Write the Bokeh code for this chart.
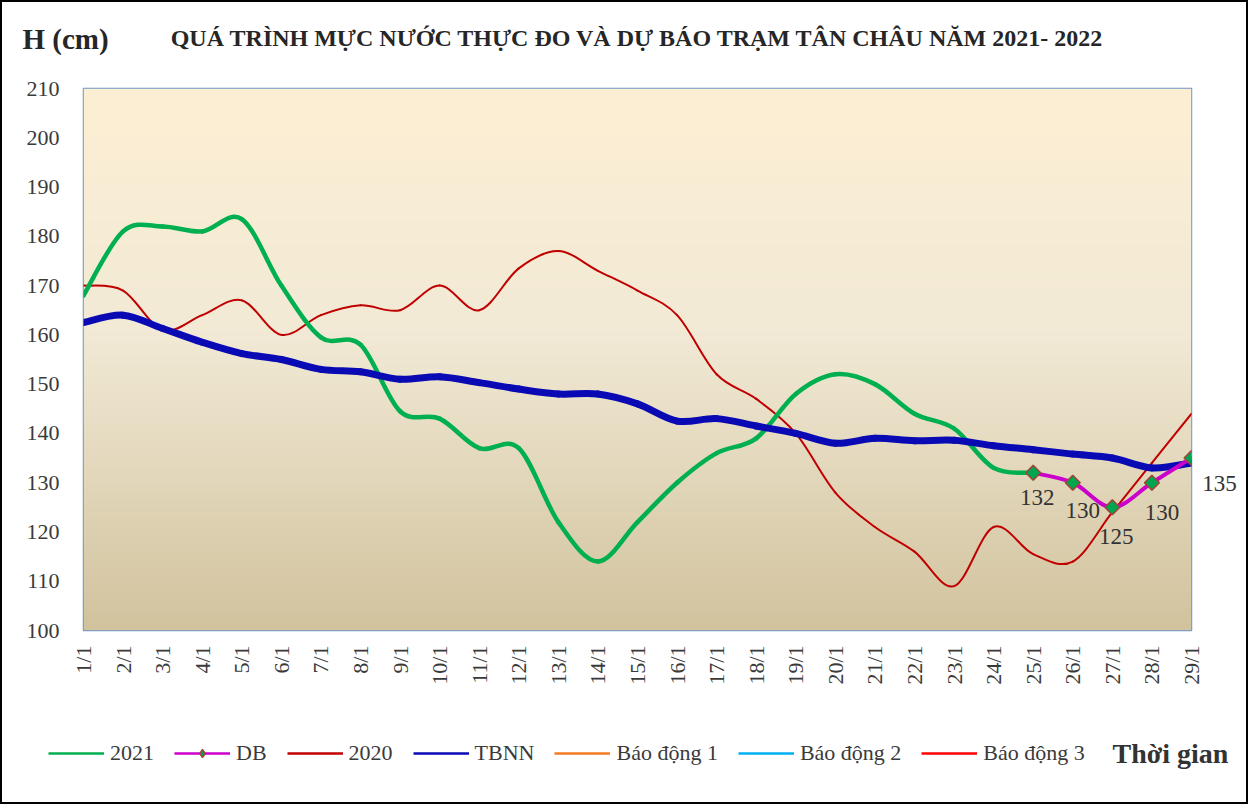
import numpy as np
from bokeh.plotting import figure
from bokeh.layouts import column
from bokeh.models import (Range1d, FixedTicker, Legend, LegendItem, Label,
                          LabelSet, ColumnDataSource)
from bokeh.core.properties import value
from bokeh.embed import file_html
from bokeh.resources import INLINE

# ---------------- data ----------------
days = ["1/1", "2/1", "3/1", "4/1", "5/1", "6/1", "7/1", "8/1", "9/1", "10/1",
        "11/1", "12/1", "13/1", "14/1", "15/1", "16/1", "17/1", "18/1", "19/1",
        "20/1", "21/1", "22/1", "23/1", "24/1", "25/1", "26/1", "27/1", "28/1", "29/1"]

h2021 = [168, 181, 182, 181, 183.5, 170, 159.5, 158, 144.5, 143, 137, 137, 122,
         114, 122, 130, 136, 139, 148, 152, 150, 144, 141, 133, 132]

db_days = ["25/1", "26/1", "27/1", "28/1", "29/1"]
db = [132, 130, 125, 130, 135]

h2020 = [170, 169, 161, 164, 167, 160, 164, 166, 165, 170, 165, 173.5, 177, 173,
         169, 164, 152, 147, 140, 128, 121, 116, 109, 121, 115.5, 114, 124, 134, 144]

tbnn = [162.5, 164, 161.3, 158.5, 156.2, 155, 153, 152.5, 151, 151.5, 150.3, 149,
        148, 148, 146, 142.5, 143, 141.5, 140, 138, 139, 138.5, 138.6, 137.5,
        136.7, 135.8, 135, 133, 134]

bd1 = 350
bd2 = 400
bd3 = 450

FONT = "Liberation Serif"
C2021, C2020, CTB, CDB = "#00B050", "#C00000", "#0A0AB4", "#CC00CC"
CB1, CB2, CB3 = "#F47B20", "#00B0F0", "#FF0000"

xi = list(range(len(days)))
x2021 = xi[:len(h2021)]
xdb = [days.index(d) for d in db_days]

# ---------------- geometry ----------------
W, H1, H2 = 1244, 700, 100
FL, FT, FW, FH = 81, 86, 1108, 542       # frame left/top/width/height (px)
X0, X1, Y0, Y1 = 0, 28, 100, 210


def dx(px):   # canvas px -> data x (for text placed outside the frame)
    return X0 + (px - FL) * (X1 - X0) / FW


def dy(py):   # canvas px -> data y
    return Y0 + (FT + FH - py) * (Y1 - Y0) / FH


def smooth(xs, ys):
    """Catmull-Rom (Excel-like) bezier control points from the data."""
    n = len(xs)
    d = dict(x0=[], y0=[], x1=[], y1=[], cx0=[], cy0=[], cx1=[], cy1=[])
    for i in range(n - 1):
        a = max(i - 1, 0)
        b = min(i + 2, n - 1)
        d["x0"].append(xs[i]); d["y0"].append(ys[i])
        d["x1"].append(xs[i + 1]); d["y1"].append(ys[i + 1])
        d["cx0"].append(xs[i] + (xs[i + 1] - xs[a]) / 6.0)
        d["cy0"].append(ys[i] + (ys[i + 1] - ys[a]) / 6.0)
        d["cx1"].append(xs[i + 1] - (xs[b] - xs[i]) / 6.0)
        d["cy1"].append(ys[i + 1] - (ys[b] - ys[i]) / 6.0)
    return ColumnDataSource(d)


p = figure(width=W, height=H1, output_backend="svg", toolbar_location=None,
           title=None, x_range=Range1d(X0, X1), y_range=Range1d(Y0, Y1),
           min_border_left=FL, min_border_right=W - FL - FW, min_border_top=FT,
           min_border_bottom=H1 - FT - FH)
p.frame_align = False
p.background_fill_color = None
p.border_fill_color = "white"
p.outline_line_color = "#6F93C5"
p.outline_line_width = 1.5
p.xgrid.visible = False
p.ygrid.visible = False

# background gradient (tan preset)
N = 256
t = np.linspace(0, 1, N)  # 0 = bottom, 1 = top
stops_t = [0.0, 0.55, 1.0]
stops_c = [(210, 195, 158), (242, 234, 214), (253, 239, 211)]
img = np.zeros((N, 1), dtype=np.uint32)
view = img.view(dtype=np.uint8).reshape((N, 1, 4))
for k in range(3):
    view[:, 0, k] = np.interp(t, stops_t, [c[k] for c in stops_c]).astype(np.uint8)
view[:, 0, 3] = 255
p.image_rgba(image=[img], x=X0, y=Y0, dw=X1 - X0, dh=Y1 - Y0, level="underlay")

# curves
bz = dict(x0="x0", y0="y0", x1="x1", y1="y1", cx0="cx0", cy0="cy0",
          cx1="cx1", cy1="cy1", line_cap="round")
p.bezier(source=smooth(xi, h2020), line_color=C2020, line_width=2, **bz)
p.bezier(source=smooth(x2021, h2021), line_color=C2021, line_width=4.5, **bz)
p.bezier(source=smooth(xi, tbnn), line_color=CTB, line_width=7, **bz)
p.bezier(source=smooth(xdb, db), line_color=CDB, line_width=4, **bz)
p.scatter(xdb, db, marker="square", angle=np.pi / 4, size=10.5,
          fill_color="#00A550", line_color="#A04538", line_width=1.5)

# alarm levels (far above the visible range)
p.line(xi, [bd1] * len(xi), line_color=CB1, line_width=2.5)
p.line(xi, [bd2] * len(xi), line_color=CB2, line_width=2.5)
p.line(xi, [bd3] * len(xi), line_color=CB3, line_width=2.5)

# DB value labels (first four inside the frame, last one in the right margin)
lab_src = ColumnDataSource(dict(x=xdb[:-1], y=db[:-1], t=[str(v) for v in db[:-1]],
                                ox=[4, 10, 4, 10], oy=[-25, -28, -29, -30]))
p.add_layout(LabelSet(x="x", y="y", text="t", source=lab_src, x_offset="ox",
                      y_offset="oy", text_align="center", text_baseline="middle",
                      text_font=value(FONT), text_font_size="23px",
                      text_color="#333333"))
p.add_layout(Label(x=xdb[-1], y=db[-1], text=str(db[-1]), x_offset=28, y_offset=-25,
                   text_align="center", text_baseline="middle", text_font=FONT,
                   text_font_size="23px", text_color="#333333"), "right")

# axes
p.xaxis.ticker = FixedTicker(ticks=xi)
p.xaxis.major_label_overrides = {i: d for i, d in enumerate(days)}
p.xaxis.major_label_orientation = np.pi / 2
p.yaxis.ticker = FixedTicker(ticks=list(range(100, 211, 10)))
for ax in (p.xaxis[0], p.yaxis[0]):
    ax.axis_line_color = None
    ax.major_tick_line_color = None
    ax.minor_tick_line_color = None
    ax.major_tick_out = 0
    ax.major_tick_in = 0
    ax.major_label_text_font = FONT
    ax.major_label_text_font_size = "22px"
    ax.major_label_text_color = "#3A3A3A"
p.yaxis.major_label_standoff = 24
p.xaxis.major_label_standoff = 15

p.add_layout(Label(x=dx(635), y=dy(35),
                   text="QUÁ TRÌNH MỰC NƯỚC THỰC ĐO VÀ DỰ BÁO TRẠM TÂN CHÂU NĂM 2021- 2022",
                   text_align="center", text_baseline="middle",
                   text_font=FONT, text_font_style="bold", text_font_size="24px",
                   text_color="#262626"), "above")
p.add_layout(Label(x=dx(20), y=dy(36), text="H (cm)", text_align="left",
                   text_baseline="middle", text_font=FONT, text_font_style="bold",
                   text_font_size="29px", text_color="#262626"), "above")

# ---------------- legend strip ----------------
q = figure(width=W, height=H2, output_backend="svg", toolbar_location=None,
           title=None, x_range=Range1d(0, W), y_range=Range1d(0, H2),
           x_axis_type=None, y_axis_type=None, min_border=0)
q.frame_align = False
q.outline_line_color = None
q.background_fill_color = "white"
q.border_fill_color = "white"
q.grid.visible = False

r_21 = q.line(x2021, h2021, line_color=C2021, line_width=2.5, visible=False)
r_dbl = q.line(xdb, db, line_color=CDB, line_width=2.5, visible=False)
r_dbm = q.scatter(xdb, db, marker="diamond", size=21,
                  fill_color="#00A550", line_color="#A04538", line_width=1.5,
                  visible=False)
r_20 = q.line(xi, h2020, line_color=C2020, line_width=2.5, visible=False)
r_tb = q.line(xi, tbnn, line_color=CTB, line_width=2.5, visible=False)
r_b1 = q.line(xi, [bd1] * len(xi), line_color=CB1, line_width=2.5, visible=False)
r_b2 = q.line(xi, [bd2] * len(xi), line_color=CB2, line_width=2.5, visible=False)
r_b3 = q.line(xi, [bd3] * len(xi), line_color=CB3, line_width=2.5, visible=False)

legend = Legend(items=[
    LegendItem(label="2021", renderers=[r_21]),
    LegendItem(label="DB", renderers=[r_dbl, r_dbm]),
    LegendItem(label="2020", renderers=[r_20]),
    LegendItem(label="TBNN", renderers=[r_tb]),
    LegendItem(label="Báo động 1", renderers=[r_b1]),
    LegendItem(label="Báo động 2", renderers=[r_b2]),
    LegendItem(label="Báo động 3", renderers=[r_b3]),
], orientation="horizontal", location=(46, 36),
    label_text_font=FONT, label_text_font_size="22px", label_text_color="#3A3A3A",
    glyph_width=56, glyph_height=20, label_standoff=6, spacing=20,
    padding=0, margin=0, border_line_alpha=0, background_fill_alpha=0)
q.add_layout(legend, "center")
q.add_layout(Label(x=1110, y=49, text="Thời gian", text_align="left",
                   text_baseline="middle", text_font=FONT, text_font_style="bold",
                   text_font_size="28px", text_color="#333333"))

page = column(p, q, spacing=0, styles={"border": "2px solid black"})
open("out.html", "w").write(file_html(page, INLINE))
